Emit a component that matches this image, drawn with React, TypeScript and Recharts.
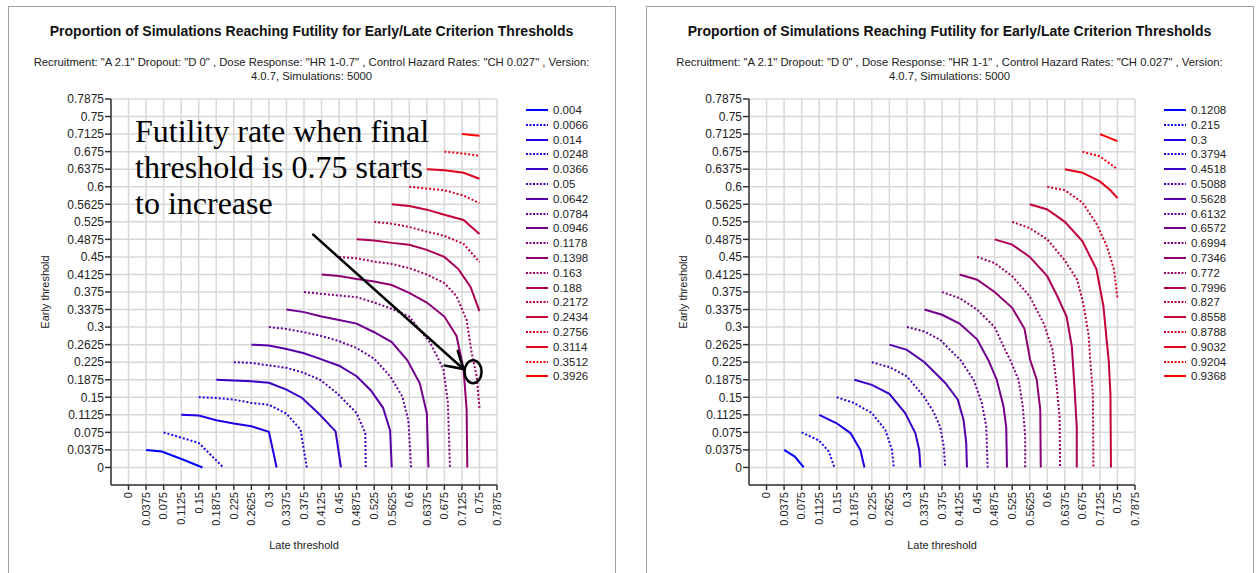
import React from "react";
import { LineChart, Line, XAxis, YAxis, CartesianGrid, Legend, ReferenceLine, ReferenceDot } from "recharts";

// axis ticks shared by both panels (early / late thresholds)
const axisTicks = [
  0, 0.0375, 0.075, 0.1125, 0.15, 0.1875, 0.225, 0.2625, 0.3, 0.3375, 0.375,
  0.4125, 0.45, 0.4875, 0.525, 0.5625, 0.6, 0.6375, 0.675, 0.7125, 0.75, 0.7875,
];

const chartTitle = "Proportion of Simulations Reaching Futility for Early/Late Criterion Thresholds";

const leftSubtitle = [
  'Recruitment: "A 2.1" Dropout: "D 0" , Dose Response: "HR 1-0.7" , Control Hazard Rates: "CH 0.027" , Version:',
  "4.0.7, Simulations: 5000",
];
const rightSubtitle = [
  'Recruitment: "A 2.1" Dropout: "D 0" , Dose Response: "HR 1-1" , Control Hazard Rates: "CH 0.027" , Version:',
  "4.0.7, Simulations: 5000",
];

const leftLevels = [
  "0.004", "0.0066", "0.014", "0.0248", "0.0366", "0.05", "0.0642", "0.0784", "0.0946", "0.1178",
  "0.1398", "0.163", "0.188", "0.2172", "0.2434", "0.2756", "0.3114", "0.3512", "0.3926",
];
const rightLevels = [
  "0.1208", "0.215", "0.3", "0.3794", "0.4518", "0.5088", "0.5628", "0.6132", "0.6572", "0.6994",
  "0.7346", "0.772", "0.7996", "0.827", "0.8558", "0.8788", "0.9032", "0.9204", "0.9368",
];

// contour lines as [late, early] pairs, one list per level
const leftContours: number[][][] = [
  [[0.0375, 0.0375], [0.071, 0.034], [0.116, 0.017], [0.158, 0]],
  [[0.075, 0.075], [0.15, 0.0525], [0.2025, 0]],
  [[0.1125, 0.1125], [0.15, 0.111], [0.1875, 0.101], [0.225, 0.094], [0.2625, 0.088], [0.3, 0.076], [0.3165, 0]],
  [[0.15, 0.15], [0.1875, 0.1485], [0.225, 0.145], [0.2625, 0.138], [0.3, 0.134], [0.3375, 0.115], [0.3675, 0.081], [0.381, 0]],
  [[0.1875, 0.1875], [0.225, 0.186], [0.2625, 0.184], [0.3, 0.181], [0.3375, 0.1665], [0.371, 0.1485], [0.409, 0.1125], [0.4425, 0.077], [0.454, 0]],
  [[0.225, 0.225], [0.2625, 0.2235], [0.3, 0.218], [0.3375, 0.213], [0.375, 0.202], [0.409, 0.1875], [0.4455, 0.159], [0.4875, 0.116], [0.506, 0.0735], [0.507, 0]],
  [[0.2625, 0.2625], [0.3, 0.2606], [0.3375, 0.253], [0.375, 0.244], [0.4125, 0.231], [0.45, 0.2175], [0.4875, 0.195], [0.5175, 0.165], [0.544, 0.1275], [0.559, 0.079], [0.5625, 0]],
  [[0.3, 0.3], [0.3375, 0.296], [0.375, 0.289], [0.4125, 0.281], [0.45, 0.27], [0.4875, 0.255], [0.525, 0.2325], [0.559, 0.195], [0.585, 0.152], [0.598, 0.101], [0.604, 0]],
  [[0.3375, 0.3375], [0.375, 0.332], [0.4125, 0.3225], [0.45, 0.315], [0.4875, 0.3075], [0.525, 0.289], [0.5625, 0.268], [0.596, 0.229], [0.6225, 0.18], [0.6375, 0.116], [0.641, 0]],
  [[0.375, 0.375], [0.4125, 0.371], [0.45, 0.3675], [0.4875, 0.364], [0.525, 0.3525], [0.5625, 0.339], [0.6, 0.3225], [0.645, 0.266], [0.673, 0.21], [0.6825, 0.139], [0.687, 0]],
  [[0.4125, 0.4125], [0.45, 0.409], [0.4875, 0.403], [0.525, 0.3975], [0.5625, 0.39], [0.6, 0.373], [0.6375, 0.3525], [0.675, 0.3225], [0.701, 0.281], [0.716, 0.21], [0.7226, 0.124], [0.724, 0]],
  [[0.45, 0.45], [0.4875, 0.447], [0.525, 0.44], [0.5625, 0.435], [0.6, 0.426], [0.6375, 0.4125], [0.675, 0.394], [0.701, 0.366], [0.7226, 0.315], [0.7335, 0.244], [0.744, 0.195], [0.75, 0.1275]],
  [[0.4875, 0.4875], [0.525, 0.485], [0.5625, 0.48], [0.6, 0.476], [0.6375, 0.465], [0.675, 0.45], [0.705, 0.424], [0.731, 0.386], [0.75, 0.334]],
  [[0.525, 0.525], [0.5625, 0.521], [0.6, 0.514], [0.6375, 0.504], [0.675, 0.495], [0.716, 0.478], [0.75, 0.439]],
  [[0.5625, 0.5625], [0.6, 0.559], [0.6375, 0.551], [0.675, 0.54], [0.716, 0.529], [0.75, 0.499]],
  [[0.6, 0.6], [0.6375, 0.596], [0.675, 0.5925], [0.716, 0.581], [0.75, 0.565]],
  [[0.6375, 0.6375], [0.675, 0.635], [0.716, 0.63], [0.75, 0.617]],
  [[0.675, 0.675], [0.716, 0.671], [0.75, 0.666]],
  [[0.7125, 0.7125], [0.75, 0.709]],
];

const rightContours: number[][][] = [
  [[0.0375, 0.0375], [0.0604, 0.0233], [0.0795, 0]],
  [[0.075, 0.075], [0.1118, 0.0578], [0.1331, 0.0341], [0.1451, 0]],
  [[0.1125, 0.1125], [0.15, 0.0945], [0.1793, 0.0735], [0.2006, 0.0375], [0.2093, 0]],
  [[0.15, 0.15], [0.1875, 0.1376], [0.225, 0.1163], [0.2539, 0.0803], [0.2681, 0.0375], [0.2719, 0]],
  [[0.1875, 0.1875], [0.225, 0.1766], [0.2625, 0.1575], [0.2963, 0.1163], [0.318, 0.0735], [0.3263, 0.0375], [0.3289, 0]],
  [[0.225, 0.225], [0.2625, 0.2145], [0.3, 0.1946], [0.336, 0.1519], [0.3563, 0.12], [0.3713, 0.0863], [0.3788, 0.045], [0.3818, 0]],
  [[0.2625, 0.2625], [0.3, 0.2513], [0.3375, 0.225], [0.36, 0.2025], [0.3825, 0.18], [0.4088, 0.1448], [0.4211, 0.1013], [0.4268, 0.0525], [0.4283, 0]],
  [[0.3, 0.3], [0.3375, 0.2906], [0.3713, 0.2726], [0.3998, 0.2438], [0.414, 0.2303], [0.4425, 0.1875], [0.4601, 0.1376], [0.4695, 0.0878], [0.4725, 0]],
  [[0.3375, 0.3375], [0.375, 0.3263], [0.4125, 0.3075], [0.45, 0.2738], [0.4744, 0.2288], [0.492, 0.1875], [0.5063, 0.1313], [0.5123, 0.0863], [0.5138, 0]],
  [[0.375, 0.375], [0.4125, 0.3619], [0.45, 0.3375], [0.4875, 0.3], [0.51, 0.2513], [0.5205, 0.2303], [0.5385, 0.1875], [0.5475, 0.1313], [0.5528, 0.0675], [0.5528, 0]],
  [[0.4125, 0.4125], [0.45, 0.4013], [0.4875, 0.375], [0.525, 0.3413], [0.5513, 0.2963], [0.5633, 0.2303], [0.5775, 0.1875], [0.585, 0.1238], [0.5861, 0]],
  [[0.45, 0.45], [0.4875, 0.4369], [0.525, 0.4088], [0.5625, 0.3656], [0.5925, 0.3075], [0.6113, 0.2513], [0.6203, 0.1725], [0.6263, 0.1088], [0.6274, 0]],
  [[0.4875, 0.4875], [0.525, 0.4763], [0.5625, 0.45], [0.6, 0.4088], [0.6225, 0.3638], [0.6413, 0.3225], [0.6525, 0.2588], [0.6581, 0.1725], [0.663, 0.0863], [0.663, 0]],
  [[0.525, 0.525], [0.5625, 0.5115], [0.6, 0.4875], [0.6375, 0.4425], [0.6638, 0.4013], [0.6773, 0.3488], [0.6881, 0.285], [0.6919, 0.2288], [0.6975, 0.1575], [0.6986, 0]],
  [[0.5625, 0.5625], [0.6, 0.5513], [0.6375, 0.525], [0.675, 0.4838], [0.705, 0.4238], [0.72, 0.345], [0.7275, 0.2663], [0.7313, 0.2288], [0.735, 0.1575], [0.7361, 0]],
  [[0.6, 0.6], [0.6375, 0.5925], [0.675, 0.5663], [0.705, 0.5213], [0.7275, 0.4725], [0.7425, 0.4238], [0.75, 0.3619]],
  [[0.6375, 0.6375], [0.675, 0.63], [0.7125, 0.6113], [0.735, 0.5925], [0.75, 0.5756]],
  [[0.675, 0.675], [0.7125, 0.6649], [0.75, 0.6375]],
  [[0.7125, 0.7125], [0.75, 0.6975]],
];

// annotation on the left panel (data coordinates)
const arrowFrom = { x: 0.3948, y: 0.4975 };
const arrowTo = { x: 0.7157, y: 0.2104 };
const circledPoint = { x: 0.7364, y: 0.2046 };
const annotationLines = ["Futility rate when final", "threshold is 0.75 starts", "to increase"];

const FONT = '"Liberation Sans", Arial, sans-serif';

// blue -> red ramp used for the contour levels
const rampColor = (i: number, n: number) => {
  const t = i / (n - 1);
  return `rgb(${Math.round(255 * t)},0,${Math.round(255 * (1 - t))})`;
};

const XTick = (props: any) => {
  const { x, y, payload } = props;
  return (
    <text
      x={x}
      y={y}
      transform={`rotate(-90, ${x}, ${y})`}
      textAnchor="end"
      dy="0.35em"
      fontSize={11}
      fontFamily={FONT}
      fill="#222"
    >
      {payload.value}
    </text>
  );
};

const ArrowShape = (props: any) => {
  const { x1, y1, x2, y2 } = props;
  const ang = Math.atan2(y2 - y1, x2 - x1);
  const len = 19;
  const a1 = ang + Math.PI - 0.54;
  const a2 = ang + Math.PI + 0.54;
  return (
    <g stroke="#000" strokeWidth={2.5} fill="none" strokeLinecap="round">
      <line x1={x1} y1={y1} x2={x2} y2={y2} />
      <polyline
        points={`${x2 + len * Math.cos(a1)},${y2 + len * Math.sin(a1)} ${x2},${y2} ${x2 + len * Math.cos(a2)},${y2 + len * Math.sin(a2)}`}
      />
    </g>
  );
};

const CircleShape = (props: any) => (
  <ellipse cx={props.cx} cy={props.cy} rx={8.5} ry={11.5} fill="none" stroke="#000" strokeWidth={2.5} />
);

const LegendList = (props: any) => {
  const items = props.payload || [];
  return (
    <div>
      {items.map((entry: any, i: number) => (
        <div key={i} style={{ height: 14.8, display: "flex", alignItems: "center" }}>
          <svg width={27} height={6}>
            <line
              x1={0}
              y1={3}
              x2={22}
              y2={3}
              stroke={entry.color}
              strokeWidth={2}
              strokeDasharray={i % 2 === 1 ? "2 1.5" : undefined}
            />
          </svg>
          <span style={{ fontFamily: FONT, fontSize: 11.5, color: "#222", lineHeight: "14px" }}>{entry.value}</span>
        </div>
      ))}
    </div>
  );
};

type PanelProps = {
  left: number;
  subtitle: string[];
  levels: string[];
  contours: number[][][];
  annotate?: boolean;
};

const Panel = ({ left, subtitle, levels, contours, annotate }: PanelProps) => (
  <div style={{ position: "absolute", left, top: 0, width: 630, height: 573 }}>
    <div
      style={{
        position: "absolute",
        left: 8,
        top: 6,
        width: 606,
        height: 600,
        border: "1px solid #a0a0a0",
      }}
    />
    <div
      style={{
        position: "absolute",
        left: 8,
        width: 607,
        top: 22,
        textAlign: "center",
        fontFamily: FONT,
        fontWeight: "bold",
        fontSize: 14,
        lineHeight: "18px",
        color: "#111",
        whiteSpace: "nowrap",
      }}
    >
      {chartTitle}
    </div>
    <div
      style={{
        position: "absolute",
        left: 8,
        width: 607,
        top: 55,
        textAlign: "center",
        fontFamily: FONT,
        fontSize: 11.3,
        lineHeight: "14px",
        color: "#222",
        whiteSpace: "nowrap",
      }}
    >
      {subtitle.map((s) => (
        <div key={s}>{s}</div>
      ))}
    </div>
    <div
      style={{
        position: "absolute",
        left: 45,
        top: 292,
        transform: "translate(-50%, -50%) rotate(-90deg)",
        fontFamily: FONT,
        fontSize: 11,
        color: "#222",
        whiteSpace: "nowrap",
      }}
    >
      Early threshold
    </div>
    <div
      style={{
        position: "absolute",
        left: 304,
        top: 545,
        transform: "translate(-50%, -50%)",
        fontFamily: FONT,
        fontSize: 11,
        color: "#222",
        whiteSpace: "nowrap",
      }}
    >
      Late threshold
    </div>
    <div style={{ position: "absolute", left: 40, top: 90 }}>
      <LineChart width={600} height={440} margin={{ top: 9, right: 143, left: 0, bottom: 0 }}>
        <CartesianGrid stroke="#d8d8d8" strokeWidth={1.5} />
        <XAxis
          type="number"
          dataKey="x"
          domain={[-0.0375, 0.7875]}
          ticks={axisTicks}
          interval={0}
          height={45}
          tick={<XTick />}
          tickSize={5}
          tickMargin={2}
          axisLine={{ stroke: "#333", strokeWidth: 1.5 }}
          tickLine={{ stroke: "#333", strokeWidth: 1.5 }}
          allowDataOverflow
        />
        <YAxis
          type="number"
          dataKey="y"
          domain={[-0.0375, 0.7875]}
          ticks={axisTicks}
          interval={0}
          width={71}
          tickSize={6}
          tickMargin={1}
          tick={{ fontSize: 12, fontFamily: FONT, fill: "#222" }}
          axisLine={{ stroke: "#333", strokeWidth: 1.5 }}
          tickLine={{ stroke: "#333", strokeWidth: 1.5 }}
          allowDataOverflow
        />
        <Legend
          layout="vertical"
          align="center"
          verticalAlign="middle"
          content={<LegendList />}
          wrapperStyle={{ left: 486, top: 12.6, width: 80 }}
        />
        {contours.map((pts, i) => (
          <Line
            key={levels[i]}
            name={levels[i]}
            data={pts.map(([x, y]) => ({ x, y }))}
            dataKey="y"
            type="linear"
            stroke={rampColor(i, levels.length)}
            strokeWidth={2}
            strokeDasharray={i % 2 === 1 ? "2 2" : undefined}
            dot={false}
            activeDot={false}
            isAnimationActive={false}
          />
        ))}
        {annotate && <ReferenceLine segment={[arrowFrom, arrowTo]} shape={ArrowShape} />}
        {annotate && <ReferenceDot x={circledPoint.x} y={circledPoint.y} r={10} shape={CircleShape} />}
      </LineChart>
    </div>
    {annotate && (
      <div
        style={{
          position: "absolute",
          left: 135,
          top: 113,
          fontFamily: '"Liberation Serif", "Times New Roman", serif',
          fontSize: 32,
          lineHeight: "36px",
          color: "#000",
          whiteSpace: "nowrap",
        }}
      >
        {annotationLines.map((s) => (
          <div key={s}>{s}</div>
        ))}
      </div>
    )}
  </div>
);

export default function App() {
  return (
    <div style={{ position: "absolute", left: 0, top: 0, width: 1260, height: 573, overflow: "hidden", background: "#fff" }}>
      <Panel left={0} subtitle={leftSubtitle} levels={leftLevels} contours={leftContours} annotate />
      <Panel left={638} subtitle={rightSubtitle} levels={rightLevels} contours={rightContours} />
    </div>
  );
}
